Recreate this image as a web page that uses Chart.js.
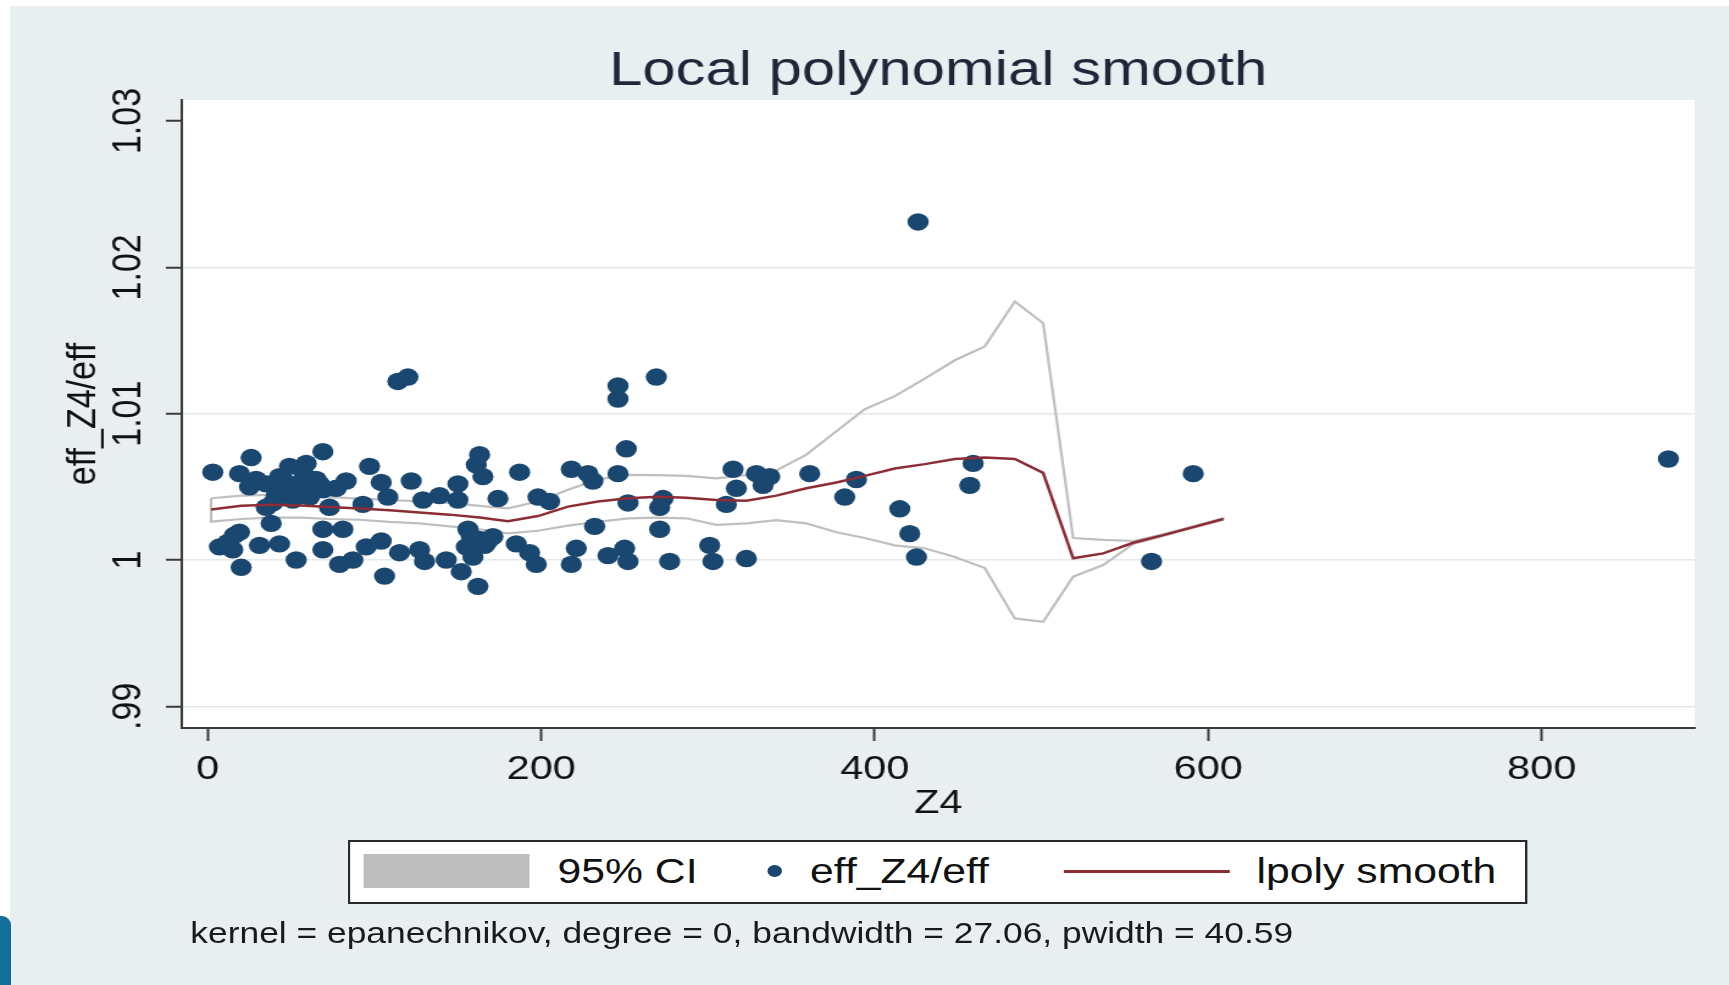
<!DOCTYPE html>
<html>
<head>
<meta charset="utf-8">
<script src="https://cdn.jsdelivr.net/npm/chart.js@4.4.1/dist/chart.umd.min.js"></script>
<style>
  html, body { margin: 0; padding: 0; background: #fff; }
  body { width: 1729px; height: 985px; overflow: hidden; position: relative; font-family: 'Liberation Sans', Arial, Helvetica, sans-serif; }
  #graphRegion { position: absolute; left: 10px; top: 6px; right: 0; bottom: 0; background: #e9eef1; }
  /* the reference graph is stretched sideways, so the whole figure is drawn narrow and widened */
  #stretch { position: absolute; left: 0; top: 0; width: 1417px; height: 985px; transform: scaleX(1.22); transform-origin: 0 0; }
  #chart { position: absolute; left: 0; top: 0; }
  #legendBox { position: absolute; left: 285px; top: 840px; width: 963px; height: 60px; border: 2px solid #2a2a2a; background: #fff; }
  .lg { position: absolute; color: #111; font-size: 35px; line-height: 40px; white-space: nowrap; }
  #note { position: absolute; left: 156px; top: 916px; font-size: 29px; line-height: 34px; color: #1a1a1a; white-space: nowrap; }
  #corner { position: absolute; left: 0; top: 916px; width: 11px; height: 69px; background: #10709a; border-top-right-radius: 9px; }
</style>
</head>
<body>
<div id="graphRegion"></div>
<div id="stretch">
  <canvas id="chart" width="1417" height="985"></canvas>
  <div id="legendBox"></div>
  <div id="legendItems"></div>
  <div id="note">kernel = epanechnikov, degree = 0, bandwidth = 27.06, pwidth = 40.59</div>
</div>
<div id="corner"></div>
<script>
// grid where lpoly was evaluated, the smooth and its 95% CI
const zGrid = [2, 20, 38, 56, 73, 91, 109, 127, 145, 163, 180, 198, 216, 234, 252, 270, 287, 305,
  323, 341, 359, 377, 394, 412, 430, 448, 466, 484, 501, 519, 537, 555, 573, 591, 609];
const smoothFit = [1.00345, 1.00370, 1.00378, 1.00372, 1.00362, 1.00352, 1.00340, 1.00325, 1.00310,
  1.00290, 1.00265, 1.00300, 1.00365, 1.00400, 1.00422, 1.00432, 1.00425, 1.00410, 1.00405, 1.00440,
  1.00490, 1.00530, 1.00575, 1.00625, 1.00655, 1.00690, 1.00700, 1.00690, 1.00595, 1.00012, 1.00045,
  1.00118, 1.00170, 1.00225, 1.00280];
const ciHigh = [1.00422, 1.00440, 1.00445, 1.00440, 1.00430, 1.00420, 1.00410, 1.00400, 1.00390,
  1.00370, 1.00353, 1.00400, 1.00480, 1.00550, 1.00581, 1.00580, 1.00575, 1.00558, 1.00580, 1.00612,
  1.00720, 1.00880, 1.01030, 1.01120, 1.01240, 1.01365, 1.01460, 1.01766, 1.01618, 1.00150, 1.00137,
  1.00130, 1.00175, 1.00230, 1.00285];
const ciLow = [1.00262, 1.00280, 1.00290, 1.00290, 1.00280, 1.00275, 1.00260, 1.00250, 1.00230,
  1.00210, 1.00182, 1.00200, 1.00235, 1.00260, 1.00285, 1.00290, 1.00285, 1.00240, 1.00250, 1.00272,
  1.00250, 1.00190, 1.00150, 1.00100, 1.00080, 1.00020, 0.99945, 0.99601, 0.99578, 0.99886, 0.99966,
  1.00110, 1.00165, 1.00220, 1.00275];

// observations: Z4 and eff_Z4/eff
const pointZ = [3, 26, 19, 25, 69, 49, 59, 35, 43, 55, 65, 69, 39, 51, 61, 73, 35, 83, 97, 104, 93, 108,
  45, 57, 63, 47, 29, 77, 38, 19, 7, 15, 20, 31, 43, 53, 69, 81, 69, 79, 87, 95, 104, 106, 12, 16,
  122, 150, 129, 139, 150, 174, 198, 205, 163, 161, 165, 187, 218, 115, 127, 130, 143, 156, 163, 171,
  155, 159, 152, 162, 185, 193, 197, 160, 166, 158, 168,
  251, 228, 231, 246, 252, 273, 271, 311, 315, 317, 329, 333, 337, 361, 389, 382, 415, 421, 425, 459, 457,
  232, 271, 221, 218, 240, 250, 252, 277, 301, 303, 323,
  426, 114, 120, 246, 246, 269, 591, 566, 876,
  53, 67, 41, 58];
const pointEff = [1.0060, 1.0070, 1.0059, 1.0050, 1.0074, 1.0064, 1.0066, 1.0052, 1.0057, 1.0052, 1.0055,
  1.0048, 1.0039, 1.0041, 1.0043, 1.0036, 1.0036, 1.0054, 1.0064, 1.0053, 1.0038, 1.0043,
  1.0048, 1.0045, 1.0050, 1.0053, 1.0055, 1.0049, 1.0025, 1.0019, 1.0009, 1.0007, 0.9995, 1.0010,
  1.0011, 1.0000, 1.0021, 1.0021, 1.0007, 0.9997, 1.0000, 1.0009, 1.0013, 0.9989, 1.0012, 1.0017,
  1.0054, 1.0052, 1.0041, 1.0044, 1.0041, 1.0042, 1.0043, 1.0040, 1.0072, 1.0065, 1.0057, 1.0060, 1.0062,
  1.0005, 1.0007, 0.9999, 1.0000, 1.0021, 1.0014, 1.0016, 1.0009, 1.0002, 0.9992, 0.9982, 1.0011,
  1.0005, 0.9997, 1.0012, 1.0010, 1.0016, 1.0013,
  1.0076, 1.0059, 1.0054, 1.0059, 1.0039, 1.0042, 1.0036, 1.0038, 1.0062, 1.0049, 1.0059, 1.0051,
  1.0057, 1.0059, 1.0055, 1.0043, 1.0035, 1.0018, 1.0002, 1.0066, 1.0051,
  1.0023, 1.0021, 1.0008, 0.9997, 1.0003, 1.0008, 0.9999, 0.9999, 1.0010, 0.9999, 1.0001,
  1.0231, 1.0122, 1.0125, 1.0119, 1.0110, 1.0125, 1.0059, 0.9999, 1.0069,
  1.0046, 1.0052, 1.0044, 1.0058];

const xTicks = [0, 200, 400, 600, 800];
const yTicks = [0.99, 1, 1.01, 1.02, 1.03];

const fontFamily = "'Liberation Sans', Arial, Helvetica, sans-serif";
const navy = '#1a476f';
const maroon = '#8c2d36';
const ciGray = '#bfbfbf';
const axisInk = '#3a3a3a';

// CI drawn as a closed outline: upper bound forward, lower bound back
const ciOutline = zGrid.map((x, i) => ({x: x, y: ciHigh[i]}))
  .concat(zGrid.map((x, i) => ({x: x, y: ciLow[i]})).reverse());
ciOutline.push({x: zGrid[0], y: ciHigh[0]});

// white plot region behind the grid
const plotRegion = {
  id: 'plotRegion',
  beforeDraw(chart) {
    const a = chart.chartArea;
    const ctx = chart.ctx;
    ctx.save();
    ctx.fillStyle = '#ffffff';
    ctx.fillRect(a.left, a.top, a.right - a.left, a.bottom - a.top);
    ctx.restore();
  }
};

function fmtY(v) {
  return String(+v.toFixed(2)).replace(/^0\./, '.');
}

const ctx = document.getElementById('chart').getContext('2d');
new Chart(ctx, {
  type: 'scatter',
  data: {
    datasets: [{
      label: 'lpoly smooth',
      data: zGrid.map((x, i) => ({x: x, y: smoothFit[i]})),
      showLine: true,
      borderColor: maroon,
      borderWidth: 2.5,
      pointRadius: 0,
      tension: 0
    }, {
      label: 'eff_Z4/eff',
      data: pointZ.map((x, i) => ({x: x, y: pointEff[i]})),
      showLine: false,
      backgroundColor: navy,
      borderColor: navy,
      borderWidth: 0,
      pointRadius: 8.7
    }, {
      label: '95% CI',
      data: ciOutline,
      showLine: true,
      borderColor: ciGray,
      borderWidth: 2.2,
      pointRadius: 0,
      fill: false,
      tension: 0
    }]
  },
  options: {
    responsive: false,
    animation: false,
    events: [],
    layout: { padding: { left: 0, right: 28, top: 0, bottom: 157 } },
    plugins: {
      legend: { display: false },
      tooltip: { enabled: false },
      title: {
        display: true,
        fullSize: false,
        text: 'Local polynomial smooth',
        color: '#1e2638',
        font: { family: fontFamily, size: 49, weight: 'normal', lineHeight: 1.1 },
        padding: { top: 45, bottom: 1 }
      }
    },
    scales: {
      x: {
        type: 'linear',
        min: -15.6,
        max: 891.7,
        afterBuildTicks: s => { s.ticks = xTicks.map(v => ({value: v})); },
        afterFit: s => { s.height = 100; },
        ticks: {
          color: '#111',
          font: { family: fontFamily, size: 34 },
          padding: 8,
          maxRotation: 0,
          callback: v => String(v)
        },
        grid: {
          drawOnChartArea: false,
          drawTicks: true,
          tickLength: 13,
          tickColor: axisInk,
          tickWidth: 2,
          color: 'rgba(0,0,0,0)'
        },
        border: { display: true, color: axisInk, width: 2 },
        title: {
          display: true,
          text: 'Z4',
          color: '#111',
          font: { family: fontFamily, size: 34 },
          padding: { top: 0, bottom: 4 }
        }
      },
      y: {
        type: 'linear',
        min: 0.98852,
        max: 1.03144,
        afterBuildTicks: s => { s.ticks = yTicks.map(v => ({value: v})); },
        afterFit: s => { s.width = 149; },
        ticks: {
          color: '#111',
          font: { family: fontFamily, size: 34 },
          padding: -3,
          minRotation: 90,
          maxRotation: 90,
          crossAlign: 'center',
          callback: v => fmtY(v)
        },
        grid: {
          drawTicks: true,
          tickLength: 13,
          tickColor: axisInk,
          tickWidth: 2,
          lineWidth: 1.5,
          color: c => (c.tick && c.tick.value > 1.025) ? 'rgba(0,0,0,0)' : '#e4e9ec'
        },
        border: { display: true, color: axisInk, width: 2 },
        title: {
          display: true,
          text: 'eff_Z4/eff',
          color: '#111',
          font: { family: fontFamily, size: 34 },
          padding: { top: 48, bottom: 0 }
        }
      }
    }
  },
  plugins: [plotRegion]
});

// legend in the Stata style box under the plot
const legendEntries = [
  { kind: 'area', label: '95% CI', color: '#bdbdbd', keyLeft: 298, textLeft: 457 },
  { kind: 'dot', label: 'eff_Z4/eff', color: navy, keyLeft: 629, textLeft: 664 },
  { kind: 'line', label: 'lpoly smooth', color: maroon, keyLeft: 872, textLeft: 1030 }
];
const legendItems = document.getElementById('legendItems');
const midY = 871;
legendEntries.forEach(function(e) {
  const key = document.createElement('div');
  key.style.position = 'absolute';
  key.style.left = e.keyLeft + 'px';
  key.style.background = e.color;
  if (e.kind === 'area') {
    key.style.top = (midY - 17) + 'px';
    key.style.width = '136px';
    key.style.height = '34px';
  } else if (e.kind === 'dot') {
    key.style.top = (midY - 6) + 'px';
    key.style.width = '12px';
    key.style.height = '12px';
    key.style.borderRadius = '50%';
  } else {
    key.style.top = (midY - 1) + 'px';
    key.style.width = '136px';
    key.style.height = '2.5px';
  }
  legendItems.appendChild(key);
  const txt = document.createElement('div');
  txt.className = 'lg';
  txt.style.left = e.textLeft + 'px';
  txt.style.top = (midY - 20) + 'px';
  txt.textContent = e.label;
  legendItems.appendChild(txt);
});
</script>
</body>
</html>
